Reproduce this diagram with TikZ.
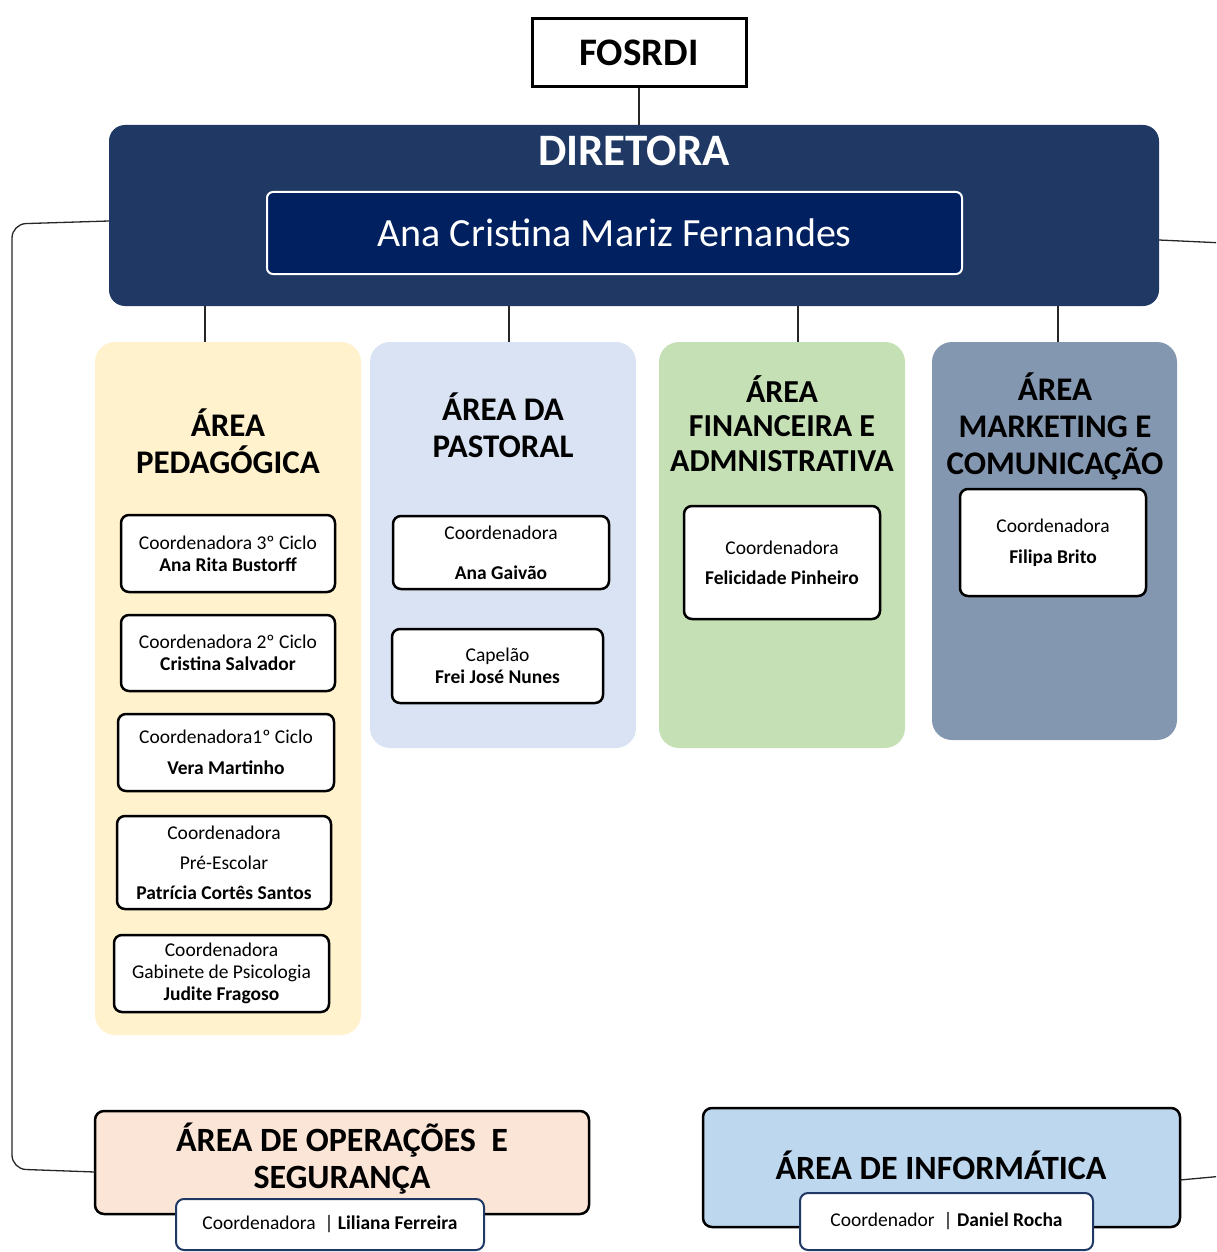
\documentclass[tikz,border=0pt]{standalone}
\usepackage{fontspec}
\setmainfont{Carlito}
\usetikzlibrary{calc}

\definecolor{navy}{HTML}{1F3864}
\definecolor{darknavy}{HTML}{002060}
\definecolor{pedag}{HTML}{FFF2CC}
\definecolor{pastoral}{HTML}{DAE3F3}
\definecolor{financ}{HTML}{C5E0B4}
\definecolor{mkt}{HTML}{8497B0}
\definecolor{oper}{HTML}{FBE5D6}
\definecolor{inform}{HTML}{BDD7EE}

\tikzset{
  conn/.style={draw=black!85, line width=1.3pt},
  area/.style={rounded corners=20pt, inner sep=0pt, outer sep=0pt},
  heading/.style={align=center, font=\fontsize{33}{37}\selectfont\bfseries},
  subbox/.style={draw, line width=2.5pt, rounded corners=8pt, fill=white,
    inner sep=0pt, outer sep=0pt, align=center, font=\fontsize{19.5}{22}\selectfont},
  bigbox/.style={draw, line width=2.5pt, rounded corners=9pt, inner sep=0pt, outer sep=0pt},
  namebox/.style={draw=navy, line width=2pt, rounded corners=8pt, fill=white,
    inner sep=0pt, outer sep=0pt, font=\fontsize{19.5}{22}\selectfont}
}

\begin{document}
\begin{tikzpicture}[x=1pt,y=-1pt]
  \useasboundingbox (0,0) rectangle (1216,1252);
  \clip (0,0) rectangle (1216,1252);

  % top
  \node[draw, line width=3pt, minimum width=214pt, minimum height=68pt, inner sep=0pt,
    font=\fontsize{39}{44}\selectfont\bfseries] (fos) at (639,53) {FOSRDI};
  \node[area, rounded corners=16pt, fill=navy, minimum width=1050pt, minimum height=181pt] (dir) at (634,215.5) {};
  \node[text=white, font=\fontsize{45}{50}\selectfont\bfseries] (dirtitle) at (634,151) {DIRETORA};
  \node[draw=white, line width=2pt, fill=darknavy, rounded corners=6pt, minimum width=695pt,
    minimum height=82pt, inner sep=0pt, text=white, font=\fontsize{40}{46}\selectfont] (ana) at (614.5,233) {Ana Cristina Mariz Fernandes};

  % areas
  \node[area, fill=pedag, minimum width=266pt, minimum height=693pt] (col1) at (228,688.5) {};
  \node[area, fill=pastoral, minimum width=266pt, minimum height=406pt] (col2) at (503,545) {};
  \node[area, fill=financ, minimum width=246pt, minimum height=406pt] (col3) at (782,545) {};
  \node[area, fill=mkt, minimum width=245pt, minimum height=398pt] (col4) at (1054.5,541) {};

  \node[heading] (head1) at (228,441.5) {ÁREA\\PEDAGÓGICA};
  \node[heading] (head2) at (503,425) {ÁREA DA\\PASTORAL};
  \node[heading, font=\fontsize{32}{34.5}\selectfont\bfseries] (head3) at (782,423.5) {ÁREA\\FINANCEIRA E\\ADMNISTRATIVA};
  \node[heading, font=\fontsize{33}{37}\selectfont\bfseries] (head4) at (1055,426.5) {ÁREA\\MARKETING E\\COMUNICAÇÃO};

  \node[subbox, minimum width=214pt, minimum height=77pt] (ciclo3) at (228,553.5)
    {Coordenadora 3º Ciclo\\\textbf{Ana Rita Bustorff}};
  \node[subbox, minimum width=214pt, minimum height=76pt] (ciclo2) at (228,653)
    {Coordenadora 2º Ciclo\\\textbf{Cristina Salvador}};
  \node[subbox, minimum width=216pt, minimum height=77pt] (ciclo1) at (226,752.5)
    {Coordenadora1º Ciclo\\[9pt]\textbf{Vera Martinho}};
  \node[subbox, minimum width=214pt, minimum height=93pt] (preesc) at (224,862.5)
    {Coordenadora\\[8pt]Pré-Escolar\\[8pt]\textbf{Patrícia Cortês Santos}};
  \node[subbox, minimum width=215pt, minimum height=77pt] (psico) at (221.5,973.5)
    {Coordenadora\\Gabinete de Psicologia\\\textbf{Judite Fragoso}};

  \node[subbox, minimum width=216pt, minimum height=73pt] (coordpast) at (501,552.5)
    {Coordenadora\\[18pt]\textbf{Ana Gaivão}};
  \node[subbox, minimum width=211pt, minimum height=74pt] (capelao) at (497.5,666)
    {Capelão\\\textbf{Frei José Nunes}};
  \node[subbox, minimum width=196pt, minimum height=113pt] (coordfin) at (782,562.5)
    {Coordenadora\\[8pt]\textbf{Felicidade Pinheiro}};
  \node[subbox, minimum width=186pt, minimum height=107pt] (coordmkt) at (1053,542.5)
    {Coordenadora\\[9pt]\textbf{Filipa Brito}};

  % bottom areas
  \node[bigbox, fill=oper, minimum width=494pt, minimum height=103pt] (ops) at (342,1162.5) {};
  \node[heading, font=\fontsize{34}{37}\selectfont\bfseries] (opstitle) at (342,1159) {ÁREA DE OPERAÇÕES~ E\\SEGURANÇA};
  \node[namebox, minimum width=308pt, minimum height=51pt] (liliana) at (330,1224.5)
    {Coordenadora~ | \textbf{Liliana Ferreira}};

  \node[bigbox, fill=inform, minimum width=477pt, minimum height=119pt] (inf) at (941.5,1167.5) {};
  \node[heading, font=\fontsize{34}{37}\selectfont\bfseries] (inftitle) at (941,1165) {ÁREA DE INFORMÁTICA};
  \node[namebox, minimum width=293pt, minimum height=57pt] (daniel) at (946.5,1221.5)
    {Coordenador~ | \textbf{Daniel Rocha}};

  % connectors
  \draw[conn] (fos.south) -- (dir.north -| fos.south);
  \draw[conn] (205,0 |- dir.south) -- (205,0 |- col1.north);
  \draw[conn] (509,0 |- dir.south) -- (509,0 |- col2.north);
  \draw[conn] (798,0 |- dir.south) -- (798,0 |- col3.north);
  \draw[conn] (1058,0 |- dir.south) -- (1058,0 |- col4.north);
  \draw[conn, rounded corners=14pt] ([yshift=-5.5pt]dir.west) -- (12,224) -- (12,1169) -- ([yshift=-9.5pt]ops.west);
  \draw[conn, rounded corners=20pt] ([yshift=-24.5pt]dir.east) -- (1245,244) -- (1245,1174) -- ([yshift=-12.5pt]inf.east);
\end{tikzpicture}
\end{document}
